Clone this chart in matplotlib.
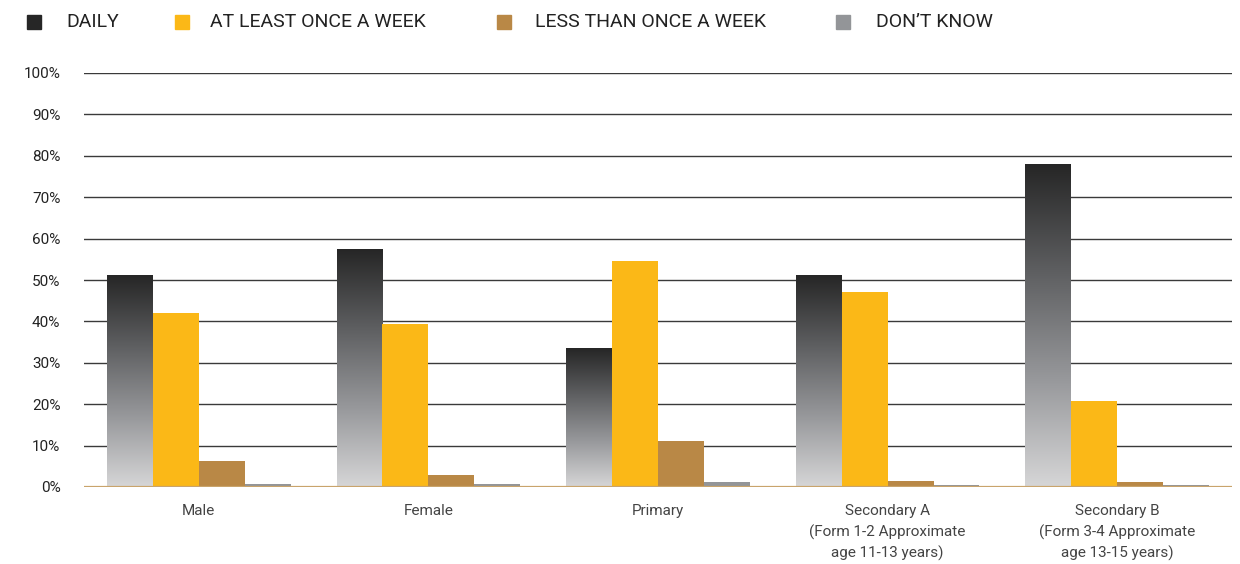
import numpy as np
import matplotlib
matplotlib.use('Agg')
import matplotlib.pyplot as plt
import matplotlib.patches as mpatches
from matplotlib.colors import LinearSegmentedColormap

plt.rcParams['font.family'] = ['Roboto', 'DejaVu Sans']

# data (percent)
categories = ['Male', 'Female', 'Primary',
              'Secondary A\n(Form 1-2 Approximate\nage 11-13 years)',
              'Secondary B\n(Form 3-4 Approximate\nage 13-15 years)']
series = ['DAILY', 'AT LEAST ONCE A WEEK', 'LESS THAN ONCE A WEEK', 'DON\u2019T KNOW']
daily = [51.0, 57.3, 33.4, 51.0, 77.9]
weekly = [42.0, 39.4, 54.6, 47.1, 20.8]
less_weekly = [6.3, 2.9, 11.1, 1.5, 1.3]
dont_know = [0.8, 0.8, 1.3, 0.5, 0.5]

colors = ['#262626', '#FBB817', '#B98846', '#939598']
grad = LinearSegmentedColormap.from_list('daily', ['#d6d6d7', '#97989b', '#5e5f61', '#262626'])

fig = plt.figure(figsize=(12.4, 5.64), dpi=100)
ax = fig.add_axes([84 / 1240, 77 / 564, 1148 / 1240, 414 / 564])

x = np.arange(len(categories))
w = 0.2
offsets = [-1.5 * w, -0.5 * w, 0.5 * w, 1.5 * w]

# gridlines
for yv in range(10, 101, 10):
    ax.axhline(yv, color='#3a3a3a', linewidth=1.0, zorder=1)
ax.axhline(0, color='#C9A46C', linewidth=1.6, zorder=4)

# daily bars with vertical gradient
gimg = np.linspace(0, 1, 256).reshape(-1, 1)
for xi, v in zip(x, daily):
    x0 = xi + offsets[0] - w / 2
    ax.imshow(gimg, cmap=grad, origin='lower', aspect='auto',
              extent=[x0, x0 + w, 0, v], zorder=2, interpolation='bicubic')

for vals, off, c in zip([weekly, less_weekly, dont_know], offsets[1:], colors[1:]):
    ax.bar(x + off, vals, width=w, color=c, linewidth=0, zorder=3)

ax.set_xlim(-0.5, len(categories) - 0.5)
ax.set_ylim(0, 100)
ax.set_yticks(range(0, 101, 10))
ax.set_yticklabels([f'{v}%' for v in range(0, 101, 10)], fontsize=11, color='#222222')
ax.set_xticks(x)
ax.set_xticklabels(categories, fontsize=11, color='#444444', linespacing=1.55)
ax.tick_params(axis='y', length=0, pad=17)
ax.tick_params(axis='x', length=0, pad=12)
for s in ax.spines.values():
    s.set_visible(False)

# legend across the top
marker_x = [27, 175, 497, 836]
text_x = [66, 210, 535, 876]
for lbl, c, mx, tx in zip(series, colors, marker_x, text_x):
    fig.patches.append(mpatches.Rectangle((mx / 1240, 1 - 29 / 564), 14 / 1240, 14 / 564,
                                          transform=fig.transFigure, color=c, figure=fig))
    fig.text(tx / 1240, 1 - 22 / 564, lbl, fontsize=14, va='center', ha='left', color='#222222')

plt.savefig('out.png', dpi=100)
